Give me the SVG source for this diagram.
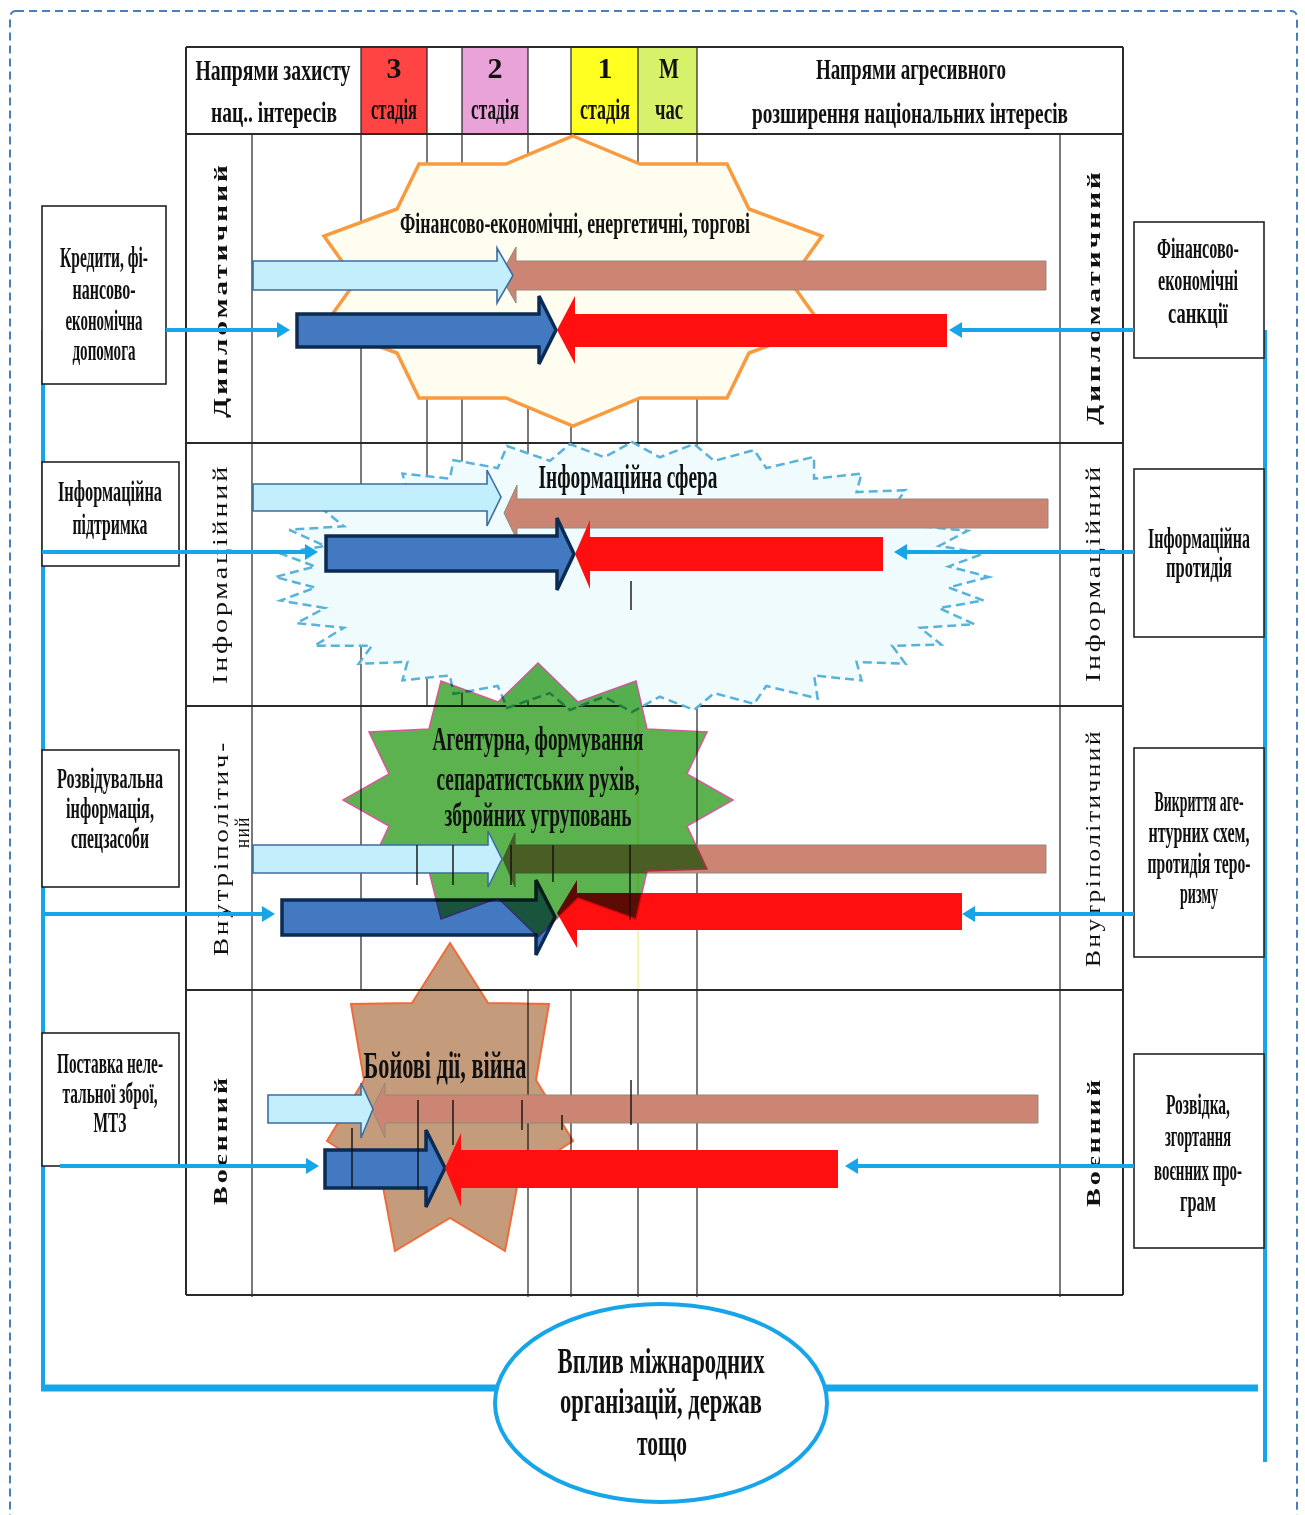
<svg xmlns="http://www.w3.org/2000/svg" width="1305" height="1515" viewBox="0 0 1305 1515">
  <style>
    .tx { font-family: "Liberation Serif", "Times New Roman", serif; font-weight: bold; fill: #111; text-anchor: middle; }
    .n { font-weight: normal; }
    .hd { font-size: 30px; }
    .bx { font-size: 30px; }
    .lab { font-size: 19px; letter-spacing: 2px; dominant-baseline: central; }
    .labn { font-size: 20px; letter-spacing: 2px; font-weight: normal; dominant-baseline: central; }
    .grid { stroke: #222; stroke-width: 1.2; fill: none; }
    .rowline { stroke: #2a2a2a; stroke-width: 2; fill: none; }
    .box { fill: #fff; stroke: #222; stroke-width: 1.6; }
    .conn { stroke: #17a5ea; fill: none; }
    .ah { fill: #17a5ea; }
    .lb { fill: #c2effb; stroke: #3d6d9e; stroke-width: 1.6; }
    .br { fill: #cc8573; stroke: #8f8a7c; stroke-width: 1; }
    .db { fill: #4279c1; stroke: #0c2b52; stroke-width: 3.5; }
    .rd { fill: #ff0f0f; }
    .seg { stroke: #111; stroke-width: 1.4; }
  </style>

  <!-- outer dashed frame -->
  <rect x="10" y="11" width="1287" height="1530" rx="6" fill="none" stroke="#4a7ebb" stroke-width="2" stroke-dasharray="8 5"/>

  <!-- table: header fills -->
  <g id="header-cells">
    <rect x="361" y="47" width="66" height="87" fill="#ff4444"/>
    <rect x="462" y="47" width="66" height="87" fill="#eaa3d9"/>
    <rect x="571" y="47" width="67" height="87" fill="#ffff22"/>
    <rect x="638" y="47" width="59" height="87" fill="#d8f16a"/>
  </g>

  <!-- table grid -->
  <g id="grid">
    <!-- header columns -->
    <path class="grid" d="M361 47V134M427 47V134M462 47V134M528 47V134M571 47V134M638 47V134M697 47V134"/>
    <!-- full-height columns -->
    <path class="grid" d="M252 134V1297M361 134V990M697 134V1297M1060 134V1297"/>
    <!-- stage columns, rows 1-2 -->
    <path class="grid" d="M427 134V706M462 134V706M528 134V706M571 134V706M638 134V706"/>
    <!-- stage columns, row 4 -->
    <path class="grid" d="M528 990V1297M571 990V1297M638 990V1297"/>
    <path d="M638 706V990" stroke="#f4f070" stroke-width="1.2"/>
    <!-- row lines and border -->
    <path class="rowline" d="M186 47H1123M186 134H1123M186 443H1123M186 706H1123M186 990H1123M186 1295H1123M186 47V1295M1123 47V1295"/>
  </g>

  <!-- row 1: financial sphere -->
  <g id="sphere-finance">
    <polygon points="573,136 640,164 727,164 749,209 822,236 790,281 822,326 749,353 727,398 640,398 573,426 506,398 419,398 397,353 324,326 356,281 324,236 397,209 419,164 506,164" fill="#fffdf0" stroke="#f89b3f" stroke-width="3.5" stroke-linejoin="miter"/>
  </g>

  <!-- row 2: information sphere -->
  <g id="sphere-info">
    <path transform="translate(632,577) scale(3.57,1.35)" vector-effect="non-scaling-stroke" fill="#effbfd" stroke="#58b2d9" stroke-width="2.5" stroke-dasharray="9 5"
      d="M100,0 L88.7,7.8 L98.5,17.4 L86,23 L96,35 L80.7,37.6 L86.6,50 L72.9,51 L76.6,64.3 L62.9,62.9 L64.3,76.6 L51,72.9 L52,90 L37.6,80.7 L34.2,94 L23,86 L17.4,98.5 L7.8,88.7 L0,100 L-7.8,88.7 L-17.4,98.5 L-23,86 L-35,97 L-37.6,80.7 L-50,86.6 L-51,72.9 L-64.3,76.6 L-62.9,62.9 L-76.6,64.3 L-72.9,51 L-89,51 L-80.7,37.6 L-94,34.2 L-86,23 L-98.5,17.4 L-88.7,7.8 L-100,0 L-88.7,-7.8 L-98.5,-17.4 L-86,-23 L-96,-35 L-80.7,-37.6 L-86.6,-50 L-72.9,-51 L-76.6,-64.3 L-62.9,-62.9 L-64.3,-76.6 L-51,-72.9 L-50,-86.6 L-37.6,-80.7 L-35,-97 L-23,-86 L-17.4,-98.5 L-7.8,-88.7 L0,-100 L7.8,-88.7 L17.4,-98.5 L23,-86 L34.2,-94 L37.6,-80.7 L51,-89 L51,-72.9 L64.3,-76.6 L62.9,-62.9 L76.6,-64.3 L72.9,-51 L89,-51 L80.7,-37.6 L94,-34.2 L86,-23 L98.5,-17.4 L88.7,-7.8 Z"/>
  </g>

  <!-- row 4: combat -->
  <g id="sphere-combat">
    <polygon points="450,943 488,1003 549,1004 536,1080 573,1141 519,1176 505,1251 450,1218 395,1251 381,1176 327,1141 364,1080 351,1004 412,1003" fill="#c49c7c" stroke="#f06a3a" stroke-width="2" style="mix-blend-mode:multiply"/>
  </g>

  <!-- opposing arrows -->
  <g id="arrows">
    <!-- row 1 -->
    <path class="br" d="M1046,261 H516 V247 L500,275.5 L516,303 V290 H1046 Z"/>
    <path class="lb" d="M253,261 H497 V248 L513,275.5 L497,303 V290 H253 Z"/>
    <path class="db" d="M297,314 H539 V296 L556,330 L539,364 V347 H297 Z"/>
    <path class="rd" d="M947,314 H575 V296 L557,330 L575,364 V347 H947 Z"/>
    <!-- row 2 -->
    <path class="br" d="M1048,499 H517 V485 L504,513 L517,540 V528 H1048 Z"/>
    <path class="lb" d="M253,484 H487 V470 L501,497 L487,526 V511 H253 Z"/>
    <path class="db" d="M326,536 H557 V518 L574,554 L557,590 V571 H326 Z"/>
    <path class="rd" d="M883,537 H590 V520 L575,554 L590,589 V571 H883 Z"/>
    <!-- row 4 -->
    <path class="br" d="M1038,1095 H385 V1083 L372,1109 L385,1138 V1123 H1038 Z"/>
    <path class="lb" d="M268,1095 H361 V1083 L373,1109 L361,1138 V1123 H268 Z"/>
    <path class="db" d="M325,1150 H426 V1130 L445,1168 L426,1207 V1188 H325 Z"/>
    <path class="rd" d="M838,1150 H461 V1133 L445,1168 L461,1207 V1188 H838 Z"/>
    <!-- row 3 (under the agent-network star) -->
    <path class="br" d="M1046,845 H515 V833 L503,859 L515,887 V873 H1046 Z"/>
    <path class="db" d="M282,900 H536 V880 L555,917 L536,955 V935 H282 Z"/>
    <path class="rd" d="M962,893 H577 V880 L557,913 L577,948 V930 H962 Z"/>
  </g>

  <!-- row 3: agent network -->
  <g id="sphere-agents">
    <polygon points="538,663 578,702 636,681 647,729 707,732 687,774 733,800 687,826 707,869 647,871 636,919 578,898 538,937 498,898 441,919 429,871 369,869 389,826 343,800 389,774 369,732 429,729 441,681 498,702" fill="#5cb24f" stroke="#d9579c" stroke-width="1.5" style="mix-blend-mode:multiply"/>
  </g>
  <path class="lb" d="M253,845 H488 V831 L502,859 L488,887 V873 H253 Z"/>

  <!-- remnant grid strokes over the arrows -->
  <g id="grid-remnants">
    <path class="seg" d="M631 581V610M417 845V885M453 845V885M511 845V885M553 845V882M630 845V920M352 1128V1188M418 1100V1190M453 1100V1145M522 1100V1130M562 1115V1130M631 1080V1125"/>
  </g>

  <!-- sphere captions -->
  <g id="captions">
    <text class="tx" x="575" y="233" font-size="29" textLength="350" lengthAdjust="spacingAndGlyphs">Фінансово-економічні, енергетичні, торгові</text>
    <text class="tx" x="628" y="488" font-size="33" textLength="179" lengthAdjust="spacingAndGlyphs">Інформаційна сфера</text>
    <text class="tx" x="538" y="750" font-size="34" textLength="211" lengthAdjust="spacingAndGlyphs">Агентурна, формування</text>
    <text class="tx" x="538" y="790" font-size="34" textLength="203" lengthAdjust="spacingAndGlyphs">сепаратистських рухів,</text>
    <text class="tx" x="538" y="826" font-size="34" textLength="187" lengthAdjust="spacingAndGlyphs">збройних угруповань</text>
    <text class="tx" x="445" y="1078" font-size="38" textLength="163" lengthAdjust="spacingAndGlyphs">Бойові дії, війна</text>
  </g>

  <!-- header captions -->
  <g id="header-text">
    <text class="tx hd" x="273" y="80" textLength="155" lengthAdjust="spacingAndGlyphs">Напрями захисту</text>
    <text class="tx hd" x="274" y="122" textLength="126" lengthAdjust="spacingAndGlyphs">нац.. інтересів</text>
    <text class="tx hd" x="394" y="78" font-size="27">3</text>
    <text class="tx hd" x="394" y="119" textLength="46" lengthAdjust="spacingAndGlyphs">стадія</text>
    <text class="tx hd" x="495" y="78" font-size="27">2</text>
    <text class="tx hd" x="495" y="119" textLength="48" lengthAdjust="spacingAndGlyphs">стадія</text>
    <text class="tx hd" x="605" y="78" font-size="27">1</text>
    <text class="tx hd" x="605" y="119" textLength="50" lengthAdjust="spacingAndGlyphs">стадія</text>
    <text class="tx hd" x="669" y="78" textLength="20" lengthAdjust="spacingAndGlyphs">М</text>
    <text class="tx hd" x="669" y="119" textLength="28" lengthAdjust="spacingAndGlyphs">час</text>
    <text class="tx hd" x="911" y="79" textLength="190" lengthAdjust="spacingAndGlyphs">Напрями агресивного</text>
    <text class="tx hd" x="910" y="123" textLength="316" lengthAdjust="spacingAndGlyphs">розширення національних інтересів</text>
  </g>

  <!-- row labels -->
  <g id="row-labels">
    <text class="tx lab" transform="translate(220,290) rotate(-90)" textLength="256" lengthAdjust="spacingAndGlyphs">Дипломатичний</text>
    <text class="tx labn" transform="translate(220,574) rotate(-90)" textLength="220" lengthAdjust="spacingAndGlyphs">Інформаційний</text>
    <text class="tx labn" transform="translate(221,848) rotate(-90)" textLength="216" lengthAdjust="spacingAndGlyphs">Внутріполітич-</text>
    <text class="tx labn" transform="translate(242,832) rotate(-90)" textLength="32" lengthAdjust="spacingAndGlyphs">ний</text>
    <text class="tx lab" transform="translate(220,1140) rotate(-90)" textLength="130" lengthAdjust="spacingAndGlyphs">Воєнний</text>
    <text class="tx lab" transform="translate(1093,297) rotate(-90)" textLength="256" lengthAdjust="spacingAndGlyphs">Дипломатичний</text>
    <text class="tx labn" transform="translate(1093,573) rotate(-90)" textLength="218" lengthAdjust="spacingAndGlyphs">Інформаційний</text>
    <text class="tx labn" transform="translate(1093,848) rotate(-90)" textLength="238" lengthAdjust="spacingAndGlyphs">Внутріполітичний</text>
    <text class="tx lab" transform="translate(1093,1142) rotate(-90)" textLength="130" lengthAdjust="spacingAndGlyphs">Воєнний</text>
  </g>

  <!-- side trunks and bottom links -->
  <g id="trunks">
    <path class="conn" stroke-width="4" d="M43 330V1391"/>
    <path class="conn" stroke-width="4" d="M1265 330V1462"/>
    <path class="conn" stroke-width="7" d="M41 1388H500M824 1388H1258"/>
  </g>

  <!-- support measures (left) -->
  <g id="node-credit">
    <rect class="box" x="42" y="206" width="124" height="178"/>
    <text class="tx bx" x="104" y="267" textLength="88" lengthAdjust="spacingAndGlyphs">Кредити, фі-</text>
    <text class="tx bx" x="104" y="299" textLength="63" lengthAdjust="spacingAndGlyphs">нансово-</text>
    <text class="tx bx" x="104" y="330" textLength="77" lengthAdjust="spacingAndGlyphs">економічна</text>
    <text class="tx bx" x="104" y="360" textLength="63" lengthAdjust="spacingAndGlyphs">допомога</text>
  </g>
  <g id="node-info-support">
    <rect class="box" x="42" y="462" width="137" height="104"/>
    <text class="tx bx" x="110" y="501" textLength="104" lengthAdjust="spacingAndGlyphs">Інформаційна</text>
    <text class="tx bx" x="110" y="534" textLength="75" lengthAdjust="spacingAndGlyphs">підтримка</text>
  </g>
  <g id="node-intel">
    <rect class="box" x="42" y="750" width="137" height="137"/>
    <text class="tx bx" x="110" y="788" textLength="106" lengthAdjust="spacingAndGlyphs">Розвідувальна</text>
    <text class="tx bx" x="110" y="818" textLength="88" lengthAdjust="spacingAndGlyphs">інформація,</text>
    <text class="tx bx" x="110" y="848" textLength="78" lengthAdjust="spacingAndGlyphs">спецзасоби</text>
  </g>
  <g id="node-supply">
    <rect class="box" x="42" y="1033" width="137" height="133"/>
    <text class="tx bx" x="110" y="1073" textLength="106" lengthAdjust="spacingAndGlyphs">Поставка неле-</text>
    <text class="tx bx" x="110" y="1103" textLength="95" lengthAdjust="spacingAndGlyphs">тальної зброї,</text>
    <text class="tx bx" x="110" y="1132" textLength="33" lengthAdjust="spacingAndGlyphs">МТЗ</text>
  </g>

  <!-- counter measures (right) -->
  <g id="node-sanctions">
    <rect class="box" x="1134" y="222" width="130" height="136"/>
    <text class="tx bx" x="1198" y="258" textLength="82" lengthAdjust="spacingAndGlyphs">Фінансово-</text>
    <text class="tx bx" x="1198" y="290" textLength="80" lengthAdjust="spacingAndGlyphs">економічні</text>
    <text class="tx bx" x="1198" y="323" textLength="60" lengthAdjust="spacingAndGlyphs">санкції</text>
  </g>
  <g id="node-info-counter">
    <rect class="box" x="1134" y="469" width="130" height="168"/>
    <text class="tx bx" x="1199" y="548" textLength="102" lengthAdjust="spacingAndGlyphs">Інформаційна</text>
    <text class="tx bx" x="1199" y="577" textLength="66" lengthAdjust="spacingAndGlyphs">протидія</text>
  </g>
  <g id="node-exposure">
    <rect class="box" x="1134" y="748" width="130" height="209"/>
    <text class="tx bx" x="1199" y="811" textLength="89" lengthAdjust="spacingAndGlyphs">Викриття аге-</text>
    <text class="tx bx" x="1199" y="842" textLength="101" lengthAdjust="spacingAndGlyphs">нтурних схем,</text>
    <text class="tx bx" x="1199" y="873" textLength="103" lengthAdjust="spacingAndGlyphs">протидія теро-</text>
    <text class="tx bx" x="1199" y="903" textLength="38" lengthAdjust="spacingAndGlyphs">ризму</text>
  </g>
  <g id="node-recon">
    <rect class="box" x="1134" y="1054" width="130" height="194"/>
    <text class="tx bx" x="1198" y="1114" textLength="64" lengthAdjust="spacingAndGlyphs">Розвідка,</text>
    <text class="tx bx" x="1198" y="1146" textLength="66" lengthAdjust="spacingAndGlyphs">згортання</text>
    <text class="tx bx" x="1198" y="1180" textLength="88" lengthAdjust="spacingAndGlyphs">воєнних про-</text>
    <text class="tx bx" x="1198" y="1211" textLength="36" lengthAdjust="spacingAndGlyphs">грам</text>
  </g>

  <!-- connectors into the table -->
  <g id="connectors">
    <path class="conn" stroke-width="4" d="M166 330H280M42 552H308M42 914H265M60 1166H309"/>
    <path class="conn" stroke-width="4" d="M1134 330H959M1134 552H904M1134 914H972M1134 1166H855"/>
    <polygon class="ah" points="290,330 277,322 277,338"/>
    <polygon class="ah" points="318,552 305,544 305,560"/>
    <polygon class="ah" points="275,914 262,906 262,922"/>
    <polygon class="ah" points="319,1166 306,1158 306,1174"/>
    <polygon class="ah" points="949,330 962,322 962,338"/>
    <polygon class="ah" points="894,552 907,544 907,560"/>
    <polygon class="ah" points="962,914 975,906 975,922"/>
    <polygon class="ah" points="845,1166 858,1158 858,1174"/>
  </g>

  <!-- international influence -->
  <g id="node-international">
    <ellipse cx="661" cy="1403" rx="166" ry="99" fill="#fff" stroke="#17a5ea" stroke-width="4"/>
    <text class="tx" x="661" y="1373" font-size="36" textLength="207" lengthAdjust="spacingAndGlyphs">Вплив міжнародних</text>
    <text class="tx" x="661" y="1413" font-size="36" textLength="202" lengthAdjust="spacingAndGlyphs">організацій, держав</text>
    <text class="tx" x="662" y="1455" font-size="36" textLength="50" lengthAdjust="spacingAndGlyphs">тощо</text>
  </g>
</svg>
